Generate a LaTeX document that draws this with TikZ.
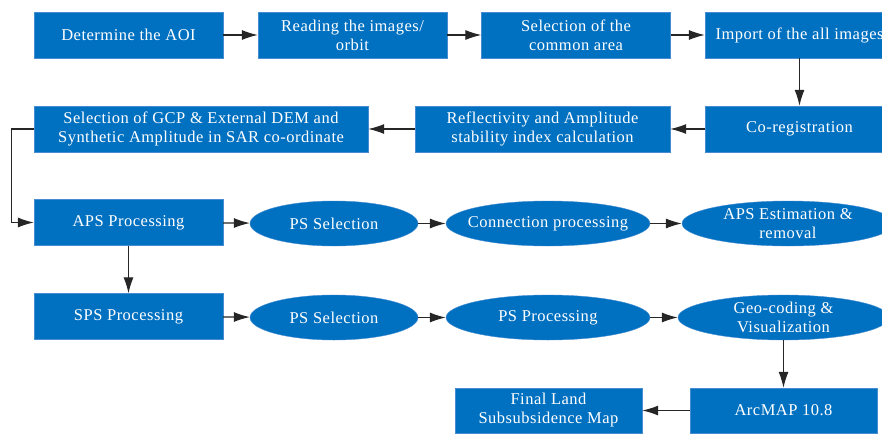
\documentclass[tikz,border=0pt]{standalone}
\usepackage{fontspec}
\setmainfont{Liberation Serif}[LetterSpace=3]
\usetikzlibrary{arrows.meta,shapes.geometric}

\definecolor{flowblue}{RGB}{0,112,192}
\definecolor{flowedge}{RGB}{70,140,210}

\newcommand*{\picw}{882}
\newcommand*{\pich}{436}

\begin{document}
\begin{tikzpicture}
[
	x=1pt,y=-1pt,
	stepbox/.style={rectangle,draw=flowedge,fill=flowblue,text=white,minimum width=189pt,minimum height=46pt,inner sep=1pt,align=center,font=\fontsize{16.5}{19}\selectfont},
	stepoval/.style={ellipse,draw=flowedge,fill=flowblue,text=white,minimum width=168pt,minimum height=45pt,inner xsep=-8pt,inner ysep=-5pt,align=center,font=\fontsize{16.5}{19}\selectfont},
	flow/.style={-{Latex[length=16pt,width=10pt]},line width=1.1pt,black!85}
]

	% page
	\useasboundingbox (0,0) rectangle (\picw,\pich);
	\clip (0,0) rectangle (\picw,\pich);

	% first row
	\node[stepbox] at (128.5,35) (aoi) {Determine the AOI};
	\node[stepbox] at (352.5,35) (read) {Reading the images/\\orbit};
	\node[stepbox] at (576,35) (common) {Selection of the\\common area};
	\node[stepbox] at (799.5,35) (import) {Import of the all images};

	% second row
	\node[stepbox,minimum width=334pt] at (201,129) (gcp) {Selection of GCP \& External DEM and\\Synthetic Amplitude in SAR co-ordinate};
	\node[stepbox,minimum width=255pt] at (542.5,129) (refl) {Reflectivity and Amplitude\\stability index calculation};
	\node[stepbox] at (799.5,129) (coreg) {Co-registration};

	% APS row
	\node[stepbox] at (128.5,222.5) (aps) {APS Processing};
	\node[stepoval] at (334,223.5) (apssel) {PS Selection};
	\node[stepoval,minimum width=204pt] at (548,223.5) (conn) {Connection processing};
	\node[stepoval,minimum width=212pt] at (788,223.5) (apsest) {APS Estimation \&\\removal};

	% SPS row
	\node[stepbox] at (128.5,316.5) (sps) {SPS Processing};
	\node[stepoval] at (334,317.5) (spssel) {PS Selection};
	\node[stepoval,minimum width=204pt] at (548,317.5) (psproc) {PS Processing};
	\node[stepoval,minimum width=211pt] at (783.5,317.5) (geo) {Geo-coding \&\\Visualization};

	% last row
	\node[stepbox,minimum width=187pt,minimum height=45pt] at (548.5,410.5) (final) {Final Land\\Subsubsidence Map};
	\node[stepbox,minimum width=187pt,minimum height=45pt] at (783.5,410.5) (arcmap) {ArcMAP 10.8};

	% arrows
	\draw[flow] (aoi) -- (read);
	\draw[flow] (read) -- (common);
	\draw[flow] (common) -- (import);
	\draw[flow] (import) -- (coreg);
	\draw[flow] (coreg) -- (refl);
	\draw[flow] (refl) -- (gcp);
	\draw[flow] (gcp.west) -- ++(-22,0) |- (aps.west);
	\draw[flow] (aps) -- (apssel);
	\draw[flow] (apssel) -- (conn);
	\draw[flow] (conn) -- (apsest);
	\draw[flow] (aps) -- (sps);
	\draw[flow] (sps) -- (spssel);
	\draw[flow] (spssel) -- (psproc);
	\draw[flow] (psproc) -- (geo);
	\draw[flow] (geo) -- (arcmap);
	\draw[flow] (arcmap) -- (final);

\end{tikzpicture}
\end{document}
